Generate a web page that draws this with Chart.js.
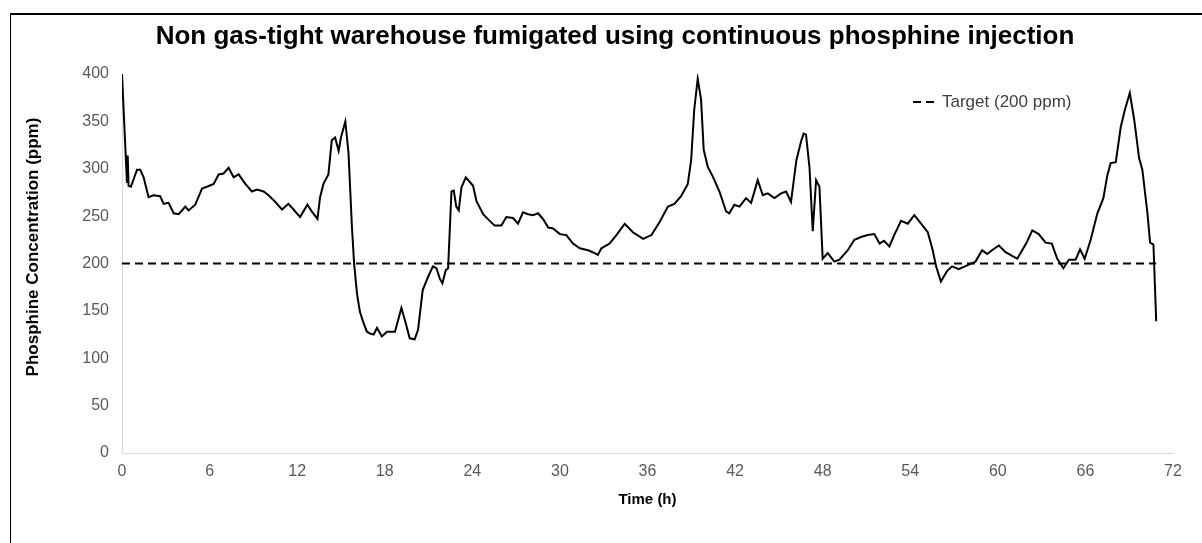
<!DOCTYPE html>
<html>
<head>
<meta charset="utf-8">
<script src="https://cdn.jsdelivr.net/npm/chart.js@4.4.1/dist/chart.umd.min.js"></script>
<style>
  html, body { margin: 0; padding: 0; background: #fff; }
  #wrap { position: relative; width: 1202px; height: 543px; overflow: hidden; }
  #frame { position: absolute; left: 10px; top: 13px; width: 1300px; height: 600px;
           border-left: 1px solid #000; border-top: 2px solid #000; pointer-events: none; }
</style>
</head>
<body>
<div id="wrap">
  <canvas id="myChart" width="1202" height="543"></canvas>
  <div id="frame"></div>
</div>
<script>
// Time (h) readings and measured phosphine (ppm)
const timeH = [
  0, 0.34, 0.39, 0.45, 0.61, 1.03, 1.25, 1.48, 1.82, 2.16, 2.62, 2.85, 3.19, 3.54, 3.88,
  4.34, 4.56, 5.02, 5.48, 5.82, 6.28, 6.62, 6.96, 7.3, 7.65, 7.99, 8.45, 8.9, 9.25, 9.7,
  10.04, 10.5, 10.96, 11.4, 11.75, 12.2, 12.7, 13.0, 13.39, 13.57, 13.8, 14.14, 14.37, 14.6, 14.84,
  15.0, 15.3, 15.52, 15.75, 15.9, 16.1, 16.3, 16.55, 16.78, 17.0, 17.24, 17.47, 17.8, 18.15, 18.7,
  19.14, 19.44, 19.71, 20.05, 20.28, 20.6, 20.97, 21.3, 21.54, 21.77, 21.95, 22.18, 22.34, 22.57, 22.73,
  22.9, 23.07, 23.25, 23.55, 24.05, 24.28, 24.74, 25.19, 25.53, 25.99, 26.33, 26.79, 27.13, 27.47, 27.82,
  28.16, 28.5, 28.84, 29.2, 29.53, 30.0, 30.44, 30.9, 31.36, 31.93, 32.38, 32.6, 32.84, 33.4, 33.87,
  34.44, 35.0, 35.7, 36.27, 36.84, 37.4, 37.84, 38.3, 38.76, 38.99, 39.2, 39.44, 39.67, 39.85, 40.13,
  40.47, 40.93, 41.38, 41.6, 41.95, 42.3, 42.75, 43.1, 43.55, 43.9, 44.24, 44.7, 45.15, 45.5, 45.83,
  46.2, 46.54, 46.7, 46.86, 47.1, 47.32, 47.55, 47.78, 48.0, 48.35, 48.8, 49.15, 49.72, 50.17, 50.63,
  51.08, 51.54, 51.9, 52.2, 52.57, 52.9, 53.37, 53.83, 54.28, 54.74, 55.2, 55.54, 55.77, 56.1, 56.52,
  56.86, 57.32, 57.9, 58.47, 58.92, 59.27, 59.6, 60.07, 60.53, 61.33, 61.67, 62.0, 62.36, 62.8, 63.27,
  63.7, 64.07, 64.49, 64.87, 65.33, 65.63, 65.95, 66.36, 66.82, 67.23, 67.5, 67.73, 68.08, 68.42, 68.7,
  69.04, 69.34, 69.68, 69.9, 70.25, 70.43, 70.66, 70.85
];
const phosphinePpm = [
  400, 285, 314, 282, 281, 299, 299, 291, 270, 272, 271, 263, 264, 253, 252,
  260, 256, 262, 279, 281, 284, 294, 295, 301, 291, 294, 284, 276, 278, 276,
  272, 265, 257, 263, 257, 249, 262, 255, 247, 270, 284, 294, 330, 333, 319,
  333, 350, 316, 239, 200, 168, 149, 137, 128, 126, 125, 132, 123, 128, 128,
  153, 137, 121, 120, 130, 172, 186, 197, 195, 184, 179, 193, 195, 276, 277,
  260, 256, 280, 291, 282, 266, 252, 245, 240, 240, 249, 248, 242, 254, 252,
  251, 253, 247, 238, 237, 231, 230, 221, 216, 214, 211, 209, 216, 221, 230,
  242, 233, 226, 230, 244, 260, 263, 271, 284, 309, 362, 395, 373, 320, 302,
  292, 276, 255, 253, 262, 260, 269, 264, 288, 272, 274, 269, 274, 276, 265,
  309, 330, 337, 336, 301, 234, 288, 281, 205, 211, 202, 204, 214, 225, 228,
  230, 231, 221, 224, 218, 230, 245, 242, 251, 242, 233, 214, 197, 181, 192,
  197, 194, 198, 202, 214, 210, 214, 219, 212, 205, 214, 223, 235, 231, 222,
  221, 205, 195, 204, 204, 215, 205, 225, 253, 269, 293, 306, 307, 344, 362,
  380, 352, 311, 299, 253, 222, 220, 139
];
const targetTime = [0, 70.85];
const targetPpm = [200, 200];
const xTicks = [0, 72, 6];   // min, max, step
const yTicks = [0, 400, 50];

const chartTitle = 'Non gas-tight warehouse fumigated using continuous phosphine injection';
const yTitle = 'Phosphine Concentration (ppm)';
const xTitle = 'Time (h)';

const FONT = '"Liberation Sans", Arial, sans-serif';

const toPoints = (xs, ys) => xs.map((x, i) => ({ x, y: ys[i] }));

// chart title and y title sit off-centre in the original, so draw them here
const titles = {
  id: 'titles',
  afterDraw(chart) {
    const { ctx } = chart;
    ctx.save();
    ctx.fillStyle = '#000';
    ctx.textAlign = 'center';
    ctx.textBaseline = 'middle';
    ctx.font = 'bold 26px ' + FONT;
    ctx.fillText(chartTitle, 615, 37);
    ctx.translate(33, 247);
    ctx.rotate(-Math.PI / 2);
    ctx.font = 'bold 17px ' + FONT;
    ctx.fillText(yTitle, 0, 0);
    ctx.restore();
  }
};

// single legend entry inside the plot, top right
const innerLegend = {
  id: 'innerLegend',
  afterDraw(chart) {
    const { ctx, chartArea } = chart;
    const ds = chart.data.datasets[1];
    const x0 = chartArea.right - 260;
    const y0 = chartArea.top + 28;
    ctx.save();
    ctx.strokeStyle = ds.borderColor;
    ctx.lineWidth = ds.borderWidth;
    ctx.setLineDash(ds.borderDash);
    ctx.beginPath();
    ctx.moveTo(x0, y0);
    ctx.lineTo(x0 + 26, y0);
    ctx.stroke();
    ctx.setLineDash([]);
    ctx.fillStyle = '#404040';
    ctx.font = '17px ' + FONT;
    ctx.textBaseline = 'middle';
    ctx.fillText(ds.label, x0 + 29, y0);
    ctx.restore();
  }
};

new Chart(document.getElementById('myChart'), {
  type: 'line',
  data: {
    datasets: [
      {
        label: 'Phosphine',
        data: toPoints(timeH, phosphinePpm),
        borderColor: '#000',
        borderWidth: 2,
        pointRadius: 0,
        tension: 0,
        fill: false,
      },
      {
        label: 'Target (200 ppm)',
        data: toPoints(targetTime, targetPpm),
        borderColor: '#000',
        borderWidth: 2,
        borderDash: [8, 5],
        pointRadius: 0,
        fill: false,
      },
    ],
  },
  options: {
    responsive: false,
    animation: false,
    layout: { padding: { left: 0, right: 29, top: 74, bottom: 0 } },
    plugins: {
      legend: { display: false },
      tooltip: { enabled: false },
      title: { display: false },
    },
    scales: {
      x: {
        type: 'linear',
        min: xTicks[0],
        max: xTicks[1],
        grid: { display: false, drawTicks: false },
        border: { display: true, color: '#d9d9d9', width: 1 },
        ticks: { stepSize: xTicks[2], color: '#595959', padding: 9, font: { family: FONT, size: 16 } },
        title: {
          display: true,
          text: xTitle,
          color: '#000',
          font: { family: FONT, size: 15, weight: 'bold' },
          padding: { top: 0, bottom: 34 },
        },
        afterFit(scale) { scale.height = 90; },
      },
      y: {
        min: yTicks[0],
        max: yTicks[1],
        grid: { display: false, drawTicks: false },
        border: { display: true, color: '#d9d9d9', width: 1 },
        ticks: { stepSize: yTicks[2], color: '#595959', padding: 13, font: { family: FONT, size: 16 } },
        afterFit(scale) { scale.width = 122; },
      },
    },
  },
  plugins: [titles, innerLegend],
});
</script>
</body>
</html>
